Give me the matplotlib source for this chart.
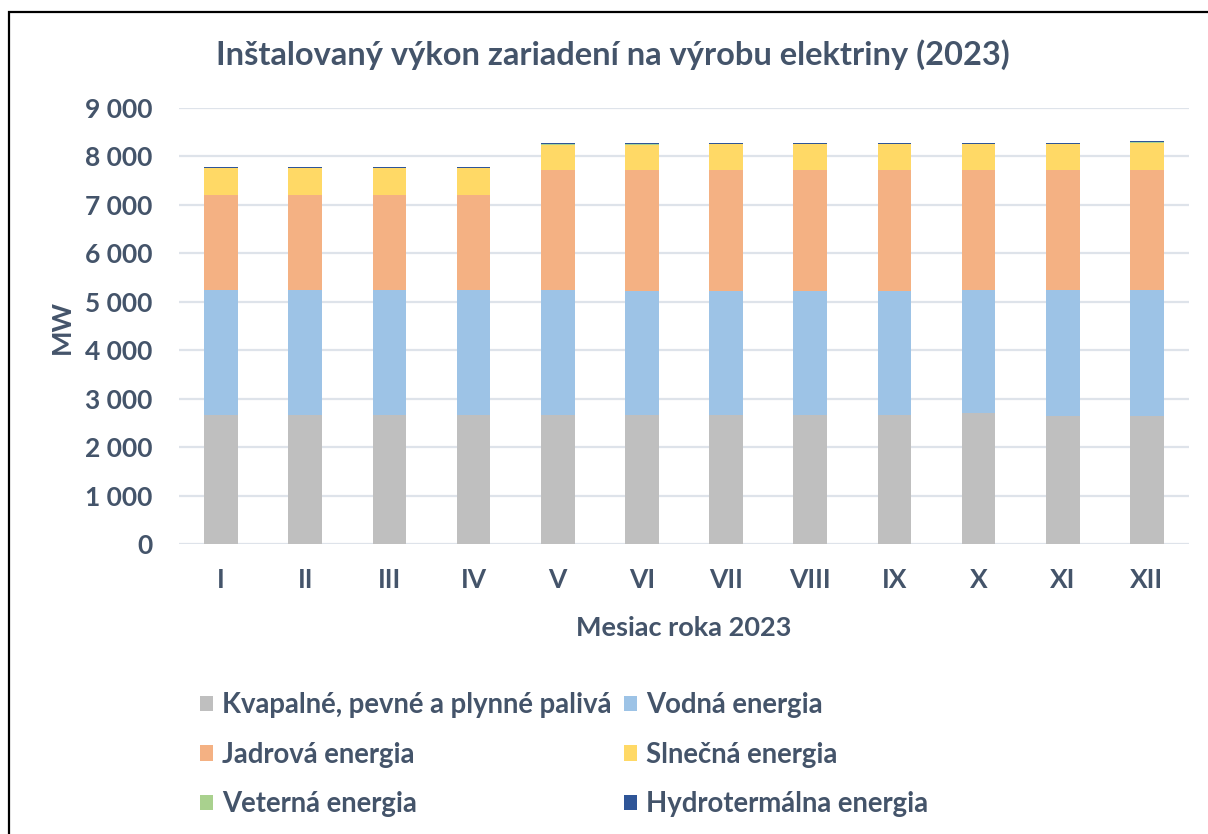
import matplotlib
matplotlib.use("Agg")
import matplotlib.pyplot as plt
from matplotlib.patches import Rectangle, Patch
import numpy as np

months = ["I", "II", "III", "IV", "V", "VI", "VII", "VIII", "IX", "X", "XI", "XII"]
fossil = [2665, 2665, 2665, 2665, 2665, 2665, 2665, 2665, 2665, 2700, 2645, 2645]
hydro = [2575, 2575, 2575, 2575, 2575, 2550, 2550, 2550, 2550, 2540, 2595, 2595]
nuclear = [1965, 1965, 1965, 1965, 2471, 2496, 2496, 2496, 2496, 2471, 2471, 2471]
solar = [561, 561, 561, 561, 535, 535, 549, 549, 549, 549, 549, 576]
wind = [3, 3, 3, 3, 3, 3, 3, 3, 3, 3, 3, 3]
hydrothermal = [20, 20, 20, 20, 24, 24, 24, 24, 24, 24, 24, 24]

series_names = ["Kvapalné, pevné a plynné palivá", "Vodná energia", "Jadrová energia",
                "Slnečná energia", "Veterná energia", "Hydrotermálna energia"]
series_vals = [fossil, hydro, nuclear, solar, wind, hydrothermal]
colors = ["#BFBFBF", "#9DC3E6", "#F4B183", "#FFD966", "#A9D18E", "#2F5597"]

yticks = [0, 1000, 2000, 3000, 4000, 5000, 6000, 7000, 8000, 9000]
ytick_labels = ["0", "1 000", "2 000", "3 000", "4 000", "5 000", "6 000", "7 000", "8 000", "9 000"]

TXT = "#44546A"
FONT = ["Lato", "DejaVu Sans"]
plt.rcParams['font.family'] = FONT
plt.rcParams['font.weight'] = 'bold'

W, H = 1208, 834
fig = plt.figure(figsize=(W / 100, H / 100), dpi=100)
fig.patch.set_facecolor("white")

ax = fig.add_axes([179 / W, 1 - 544 / H, (1189 - 179) / W, (544 - 108) / H])
x = np.arange(len(months))
bottom = np.zeros(len(months))
handles = []
for name, vals, c in zip(series_names, series_vals, colors):
    v = np.array(vals, dtype=float)
    ax.bar(x, v, bottom=bottom, width=0.4, color=c, edgecolor="none", zorder=3)
    bottom += v
    handles.append(Patch(facecolor=c, edgecolor="none", label=name))

ax.set_xlim(-0.5, len(months) - 0.5)
ax.set_ylim(0, 9000)
ax.set_yticks(yticks)
ax.set_yticklabels(ytick_labels)
ax.set_xticks(x)
ax.set_xticklabels(months)
ax.grid(axis="y", color="#DEE3EA", linewidth=1.6, zorder=0)
ax.set_axisbelow(True)
for s in ["top", "right", "left", "bottom"]:
    ax.spines[s].set_visible(False)
ax.tick_params(axis="both", length=0, labelsize=19, labelcolor=TXT)
ax.tick_params(axis="y", pad=19)
ax.tick_params(axis="x", pad=17)
for lab in ax.get_xticklabels() + ax.get_yticklabels():
    lab.set_fontweight("bold")

fig.text(613 / W, 1 - 55 / H, "Inštalovaný výkon zariadení na výrobu elektriny (2023)",
         ha="center", va="center", fontsize=23.5, fontweight="bold", color=TXT)
fig.text(684 / W, 1 - 628 / H, "Mesiac roka 2023", ha="center", va="center",
         fontsize=19.5, fontweight="bold", color=TXT)
fig.text(62 / W, 1 - 327 / H, "MW", ha="center", va="center", rotation=90,
         fontsize=19.5, fontweight="bold", color=TXT)

order = [0, 2, 4, 1, 3, 5]
leg = fig.legend([handles[i] for i in order], [series_names[i] for i in order],
                 ncol=2, loc="upper left", bbox_to_anchor=(200 / W, 1 - 692 / H),
                 frameon=False, fontsize=19.8, handlelength=0.48, handleheight=0.48,
                 handletextpad=0.33, columnspacing=0.44, labelspacing=0.86,
                 borderaxespad=0, borderpad=0)
for t in leg.get_texts():
    t.set_color(TXT)
    t.set_fontweight("bold")

border = Rectangle((8.5 / W, -0.05), 1.1, 1 - 11.5 / H + 0.05, transform=fig.transFigure,
                   fill=False, edgecolor="black", linewidth=1.6, clip_on=False)
fig.patches.append(border)

fig.savefig("out.png", dpi=100, facecolor="white")
